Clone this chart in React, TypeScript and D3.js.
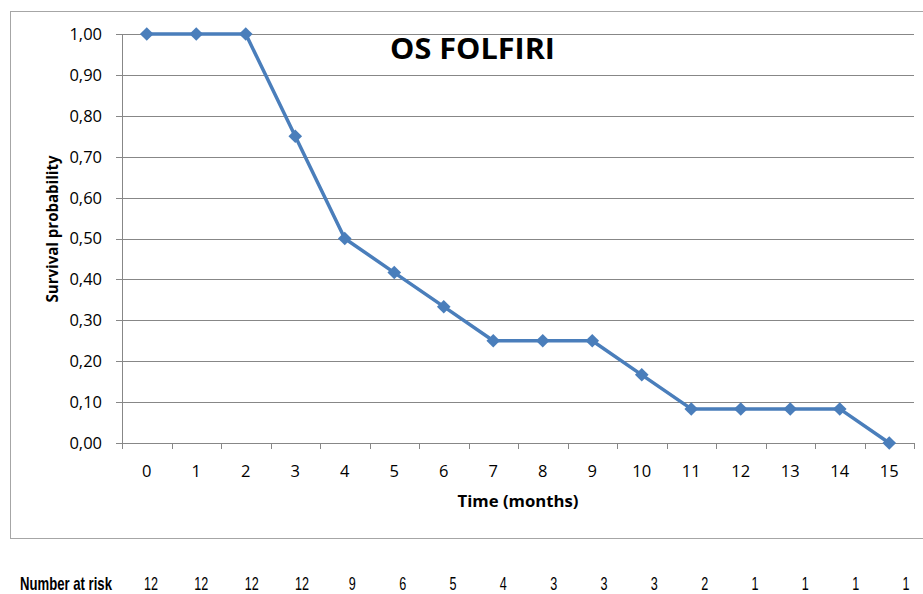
import React from "react";
import * as d3 from "d3";

const months = [0, 1, 2, 3, 4, 5, 6, 7, 8, 9, 10, 11, 12, 13, 14, 15];
const survival = [1, 1, 1, 0.75, 0.5, 0.4167, 0.3333, 0.25, 0.25, 0.25, 0.1667, 0.0833, 0.0833, 0.0833, 0.0833, 0];
const atRisk = [12, 12, 12, 12, 9, 6, 5, 4, 3, 3, 3, 2, 1, 1, 1, 1];
const yTicks = [0, 0.1, 0.2, 0.3, 0.4, 0.5, 0.6, 0.7, 0.8, 0.9, 1.0];

const W = 923, H = 594;
const plotL = 122, plotR = 914, plotT = 34, plotB = 443;
const font = "'Open Sans', 'Liberation Sans', sans-serif";
const narrow = "'Liberation Sans', Arial, sans-serif";

export default function App() {
  const x = d3.scaleBand<number>().domain(months).range([plotL, plotR]);
  const y = d3.scaleLinear().domain([0, 1]).range([plotB, plotT]);
  const riskX = d3.scaleLinear().domain([0, 15]).range([151, 906]);
  const cx = (m: number) => (x(m) as number) + x.bandwidth() / 2;
  const line = d3.line<number>().x((_, i) => cx(months[i])).y((d) => y(d));
  const fmt = (v: number) => v.toFixed(2).replace(".", ",");
  const diamond = d3.symbol().type(d3.symbolDiamond2).size(118)();
  const ticksX = months.map((m) => x(m) as number).concat([plotR]);

  return (
    <svg width={W} height={H} style={{ position: "absolute", left: 0, top: 0 }}>
      <rect x={0} y={0} width={W} height={H} fill="#fff" />
      <rect x={10.5} y={11.5} width={W} height={527} fill="none" stroke="#a6a6a6" strokeWidth={1} />
      {yTicks.map((t) => (
        <g key={t}>
          <line x1={plotL - 6} x2={plotR} y1={Math.round(y(t)) + 0.5} y2={Math.round(y(t)) + 0.5} stroke="#878787" strokeWidth={1} />
          <text x={102} y={y(t)} dy="0.36em" textAnchor="end" fontFamily={font} fontSize={16.5} fill="#000">
            {fmt(t)}
          </text>
        </g>
      ))}
      <line x1={plotL + 0.5} x2={plotL + 0.5} y1={plotT} y2={plotB + 6} stroke="#878787" strokeWidth={1} />
      {ticksX.map((t, i) => (
        <line key={i} x1={Math.round(t) + 0.5} x2={Math.round(t) + 0.5} y1={plotB} y2={plotB + 6} stroke="#878787" strokeWidth={1} />
      ))}
      {months.map((m) => (
        <text key={m} x={cx(m)} y={471} dy="0.36em" textAnchor="middle" fontFamily={font} fontSize={16.5} fill="#000">
          {m}
        </text>
      ))}
      <path d={line(survival) || ""} fill="none" stroke="#4a7ebb" strokeWidth={3.5} strokeLinejoin="round" />
      {survival.map((v, i) => (
        <path key={i} d={diamond || ""} transform={`translate(${cx(months[i])},${y(v)})`} fill="#4a7ebb" />
      ))}
      <text x={472.5} y={49} dy="0.36em" textAnchor="middle" fontFamily={font} fontSize={28} fontWeight="bold" fill="#000" textLength={165} lengthAdjust="spacingAndGlyphs">
        OS FOLFIRI
      </text>
      <text x={518} y={501} dy="0.36em" textAnchor="middle" fontFamily={font} fontSize={16} fontWeight="bold" fill="#000" textLength={121} lengthAdjust="spacingAndGlyphs">
        Time (months)
      </text>
      <text transform={`translate(52,229) rotate(-90)`} dy="0.36em" textAnchor="middle" fontFamily={font} fontSize={16} fontWeight="bold" fill="#000" textLength={147} lengthAdjust="spacingAndGlyphs">
        Survival probability
      </text>
      <text transform="translate(20,590) scale(0.73,1)" fontFamily={narrow} fontSize={18} fontWeight="bold" fill="#000">
        Number at risk
      </text>
      {atRisk.map((n, i) => (
        <text key={i} transform={`translate(${riskX(i)},590) scale(0.7,1)`} textAnchor="middle" fontFamily={narrow} fontSize={18} fill="#000">
          {n}
        </text>
      ))}
    </svg>
  );
}
